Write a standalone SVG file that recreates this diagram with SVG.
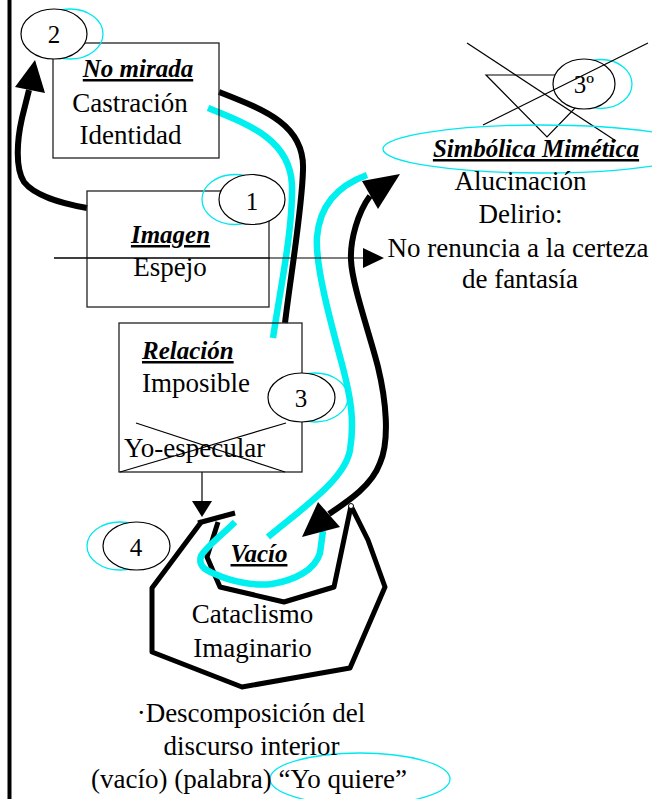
<svg xmlns="http://www.w3.org/2000/svg" width="652" height="799" viewBox="0 0 652 799">
<style>
.t{font-family:"Liberation Serif","Times New Roman",serif;font-size:27px;fill:#000}
.h{font-family:"Liberation Serif","Times New Roman",serif;font-size:25px;font-weight:bold;font-style:italic;text-decoration:underline;fill:#000}
.n{font-family:"Liberation Serif","Times New Roman",serif;font-size:25px;fill:#000;text-anchor:middle}
.m{text-anchor:middle}
.box{fill:none;stroke:#222;stroke-width:1.3}
.thin{fill:none;stroke:#000;stroke-width:1.2}
.ell{fill:#fff;stroke:#000;stroke-width:1.2}
.cy{fill:none;stroke:#00e8f0;stroke-width:1.3}
.thick{fill:none;stroke:#000;stroke-width:6;stroke-linecap:butt;stroke-linejoin:round}
.poly{fill:none;stroke:#000;stroke-width:5;stroke-linejoin:round}
.thickc{fill:none;stroke:#00f0f0;stroke-width:6.5}
.head{fill:#000;stroke:none}
</style>
<rect x="0" y="0" width="652" height="799" fill="#fff"/>
<line x1="9.5" y1="0" x2="9.5" y2="799" stroke="#000" stroke-width="4"/>

<g id="connectors">
  <path class="thick" d="M87,208 C60,203 35,196 24,182 C15,168 17,140 22,118 L29,90"/>
  <polygon class="head" points="35,60 15,87 45,93"/>
  <path class="thick" d="M219,92 C265,110 305,125 303,170 C302,210 290,280 285,323"/>
  <path class="thickc" d="M208,108 C250,125 290,140 292,185 C293,230 280,290 273,338"/>
  <path class="thickc" d="M367,175 C345,183 320,200 317,237 C315,265 330,320 343,368 C350,395 355,420 350,450 C345,480 300,510 268,537"/>
  <path class="thick" d="M370,196 C358,212 350,240 351,260 C352,285 370,335 378,367 C386,400 390,440 380,463 C372,485 350,500 329,514"/>
  <polygon class="head" points="400,174 362,181 378,209"/>
  <line x1="54" y1="258" x2="364" y2="258" stroke="#000" stroke-width="1.2"/>
  <polygon class="head" points="363,248 384,258 363,268"/>
  <line x1="202" y1="472" x2="202" y2="502" stroke="#000" stroke-width="1.2"/>
  <polygon class="head" points="192,501 212,501 202,517"/>
  <polyline class="poly" points="202,521 152,588 152,652 242,687 350,668 385,587 368,540 351,506"/>
  <polyline class="poly" points="351,506 334,587 284,602 220,587 207,557 218,522"/>
  <line x1="198" y1="523" x2="235" y2="513" stroke="#000" stroke-width="5"/>
  <circle cx="351" cy="506" r="2.5" fill="#fff" stroke="#000" stroke-width="1"/>
  <path class="thickc" d="M235,522 C222,535 205,548 201,556 C198,566 205,570 215,574 C232,582 255,586 272,584 C295,580 315,570 320,553 L323,531"/>
  <polygon class="head" points="318,502 340,527 302,537"/>
</g>

<g id="node-no-mirada">
  <rect class="box" x="53" y="43" width="166" height="115"/>
  <text class="h m" x="138" y="77">No mirada</text>
  <text class="t m" x="130" y="112">Castración</text>
  <text class="t m" x="130.5" y="144">Identidad</text>
</g>
<g id="node-2">
  <ellipse class="cy" cx="70" cy="34" rx="33" ry="25"/>
  <ellipse class="ell" cx="54" cy="34" rx="33" ry="25"/>
  <text class="n" x="54" y="43">2</text>
</g>

<g id="node-imagen">
  <rect class="box" x="87" y="191" width="182" height="116"/>
  <text class="h m" x="170.5" y="243">Imagen</text>
  <text class="t m" x="170" y="276">Espejo</text>
</g>
<g id="node-1">
  <ellipse class="cy" cx="235" cy="199.5" rx="33" ry="25"/>
  <ellipse class="ell" cx="252" cy="199.5" rx="33" ry="25"/>
  <text class="n" x="252" y="210">1</text>
</g>
<line x1="54" y1="258" x2="270" y2="258" stroke="#000" stroke-width="1.2"/>

<g id="node-relacion">
  <rect class="box" x="119" y="323" width="183" height="149"/>
  <text class="h" x="142" y="359">Relación</text>
  <text class="t" x="142" y="392">Imposible</text>
  <text class="t" x="124" y="457">Yo-especular</text>
  <line class="thin" x1="136" y1="423" x2="285" y2="472"/>
  <line class="thin" x1="286" y1="423" x2="120" y2="472"/>
</g>
<g id="node-3">
  <ellipse class="cy" cx="315" cy="397.5" rx="33" ry="24.5"/>
  <ellipse class="ell" cx="301.5" cy="397.5" rx="33.5" ry="24.5"/>
  <text class="n" x="301" y="407">3</text>
</g>

<g id="node-3o">
  <polygon class="thin" points="486,75 607,75 547,137"/>
  <line class="thin" x1="467" y1="43" x2="616" y2="141"/>
  <ellipse class="cy" cx="601" cy="84" rx="31" ry="24.5"/>
  <ellipse class="ell" cx="584" cy="84" rx="31" ry="25"/>
  <line class="thin" x1="648" y1="43" x2="483" y2="125"/>
  <text class="n" x="584" y="93">3º</text>
</g>

<g id="node-simbolica">
  <ellipse class="cy" cx="541" cy="149" rx="158" ry="24"/>
  <text class="h m" x="536" y="157">Simbólica Mimética</text>
  <text class="t m" x="520.5" y="190">Alucinación</text>
  <text class="t m" x="520.5" y="223">Delirio:</text>
  <text class="t m" x="518" y="257">No renuncia a la certeza</text>
  <text class="t m" x="520" y="288">de fantasía</text>
</g>

<g id="node-4">
  <ellipse class="cy" cx="120" cy="546" rx="33" ry="24"/>
  <ellipse class="ell" cx="136.5" cy="546" rx="33.5" ry="24"/>
  <text class="n" x="136" y="556">4</text>
</g>

<g id="node-vacio">
  <text class="h m" x="259" y="562">Vacío</text>
  <text class="t m" x="252.5" y="623">Cataclismo</text>
  <text class="t m" x="252.5" y="657">Imaginario</text>
</g>

<g id="node-descomposicion">
  <ellipse class="cy" cx="360" cy="779" rx="90" ry="26"/>
  <text class="t m" x="251" y="722">·Descomposición del</text>
  <text class="t m" x="251.5" y="755">discurso interior</text>
  <text class="t m" x="249" y="788">(vacío) (palabra) “Yo quiere”</text>
</g>
</svg>
